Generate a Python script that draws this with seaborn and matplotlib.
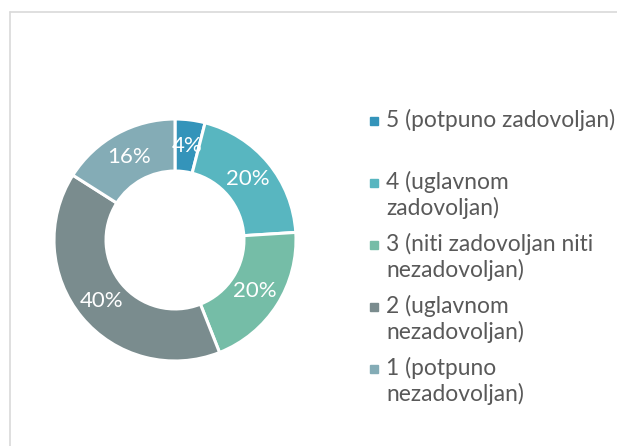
import matplotlib
matplotlib.use("Agg")
import matplotlib.pyplot as plt
import matplotlib.patches as mpatches
import matplotlib.lines as mlines
import numpy as np
import seaborn as sns

# podaci
kategorije = ['5 (potpuno zadovoljan)', '4 (uglavnom\nzadovoljan)',
              '3 (niti zadovoljan niti\nnezadovoljan)', '2 (uglavnom\nnezadovoljan)',
              '1 (potpuno\nnezadovoljan)']
postoci = [4, 20, 20, 40, 16]
boje = ['#3494BA', '#58B6C0', '#75BDA7', '#7A8C8E', '#84ACB6']

sns.set_theme(style="white")
plt.rcParams['font.family'] = ['Lato', 'DejaVu Sans']

W, H = 617, 446
fig = plt.figure(figsize=(W / 100, H / 100), dpi=100)
fig.patch.set_facecolor('white')

# okvir grafikona (samo gornji i lijevi rub su vidljivi)
fig.lines.append(mlines.Line2D([10 / W, 1.0], [1 - 12 / H, 1 - 12 / H],
                               transform=fig.transFigure, color='#D9D9D9', linewidth=1.2))
fig.lines.append(mlines.Line2D([10 / W, 10 / W], [0, 1 - 12 / H],
                               transform=fig.transFigure, color='#D9D9D9', linewidth=1.2))

# krafna
cx, cy, r = 175, 240, 121
ax = fig.add_axes([(cx - r) / W, (H - cy - r) / H, 2 * r / W, 2 * r / H])
wedges, _ = ax.pie(postoci, colors=sns.color_palette(boje), startangle=90,
                   counterclock=False, radius=1,
                   wedgeprops=dict(width=0.43, edgecolor='white', linewidth=2.2))
ax.set_xlim(-1, 1)
ax.set_ylim(-1, 1)
ax.set_aspect('equal')
ax.axis('off')

kut = 90.0
for p in postoci:
    sredina = np.deg2rad(kut - p / 100 * 360 / 2)
    kut -= p / 100 * 360
    ax.text(0.785 * np.cos(sredina), 0.785 * np.sin(sredina), f'{p}%',
            ha='center', va='center', color='white', fontsize=16)

# legenda
for i, (lab, b) in enumerate(zip(kategorije, boje)):
    yc = 121 + i * 62
    fig.patches.append(mpatches.Rectangle((370 / W, 1 - (yc + 4) / H), 8 / W, 8 / H,
                                          transform=fig.transFigure, color=b))
    fig.text(386 / W, 1 - (yc - 12) / H, lab, ha='left', va='top',
             color='#595959', fontsize=16.4, linespacing=1.23)

fig.savefig('out.png', dpi=100, facecolor='white')
